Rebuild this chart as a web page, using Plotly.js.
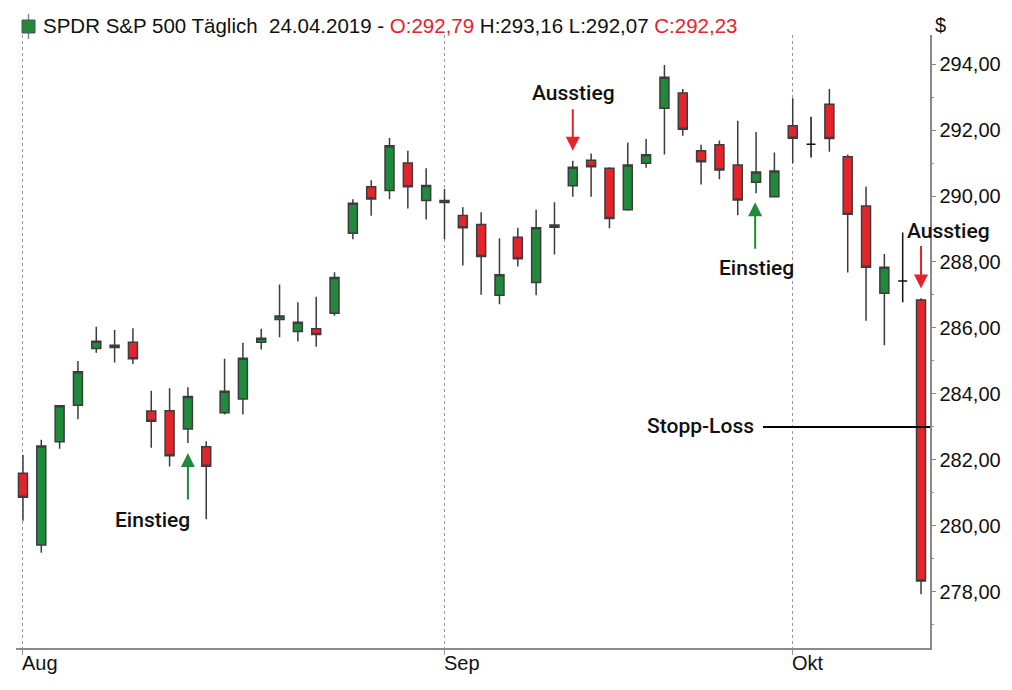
<!DOCTYPE html>
<html>
<head>
<meta charset="utf-8">
<script src="https://cdn.plot.ly/plotly-3.0.1.min.js"></script>
<style>html,body{margin:0;padding:0;background:#fff;}#chart{width:1012px;height:690px;}</style>
</head>
<body>
<div id="chart"></div>
<script>
// ---- data ----
const dayIndex = [0,1,2,3,4,5,6,7,8,9,10,11,12,13,14,15,16,17,18,19,20,21,22,23,24,25,26,27,28,29,30,31,32,33,34,35,36,37,38,39,40,41,42,43,44,45,46,47,48,49];
const openP  = [281.60,279.42,282.55,283.66,285.38,285.41,285.57,283.48,283.49,282.94,282.40,283.43,283.85,285.57,286.26,285.89,285.98,286.45,288.87,290.28,290.17,291.00,289.86,289.86,289.41,289.14,286.99,288.75,287.38,289.05,290.31,291.08,290.84,289.58,290.99,292.66,293.12,291.37,291.55,290.94,290.42,289.98,292.13,291.57,292.78,291.19,289.70,287.05,287.42,286.85];
const highP  = [282.15,282.61,283.66,285.00,286.04,285.94,285.99,284.10,284.17,284.20,282.57,285.07,285.55,285.98,287.32,286.78,286.95,287.69,289.90,290.48,291.76,291.37,290.84,290.21,289.66,289.51,288.72,289.04,289.58,289.81,291.07,291.29,290.87,291.62,291.73,293.97,293.24,291.55,291.68,292.28,291.94,291.32,292.96,292.40,293.24,291.26,290.28,288.24,288.89,286.90];
const lowP   = [280.16,279.19,282.34,283.23,285.25,284.95,284.91,282.37,281.80,282.51,280.20,283.38,283.38,285.35,285.72,285.59,285.43,286.37,288.69,289.40,289.90,289.62,289.29,288.69,287.89,287.01,286.72,287.86,286.99,288.23,289.98,289.98,289.02,289.55,290.86,291.26,291.83,290.35,290.51,289.42,290.08,289.96,290.99,291.17,291.34,287.68,286.22,285.48,286.78,277.93];
const closeP = [280.87,282.42,283.64,284.67,285.60,285.48,285.07,283.17,282.13,283.92,281.81,284.08,285.08,285.69,286.36,286.17,285.80,287.53,289.78,289.91,291.52,290.28,290.32,289.80,289.04,288.17,287.61,288.10,289.04,289.12,290.87,290.89,289.32,290.94,291.25,293.60,292.02,291.04,290.79,289.88,290.73,290.76,291.75,291.57,291.74,289.45,287.84,287.84,287.42,278.33];
const monthTickIdx = [0, 23, 42];
const monthLabels = ['Aug', 'Sep', 'Okt'];
const priceTicks = [278, 280, 282, 284, 286, 288, 290, 292, 294];
const stopLoss = 283.00;
const headerParts = {name: 'SPDR S&P 500 Täglich', date: '24.04.2019', o: '292,79', h: '293,16', l: '292,07', c: '292,23'};

// ---- styling ----
const GREEN = '#1f8a3c', RED = '#e2242b', EDGE = '#3c3c3c';
const FONT = '"Liberation Sans", Arial, sans-serif';
const NARROW = 'Roboto, "Liberation Sans", sans-serif';

const M = {l: 16, r: 82, t: 35, b: 42};
const W = 1012, H = 690;
const pw = W - M.l - M.r, ph = H - M.t - M.b;
const px = p => (p - M.l) / pw;          // pixel -> paper x
const py = p => (H - M.b - p) / ph;      // pixel -> paper y

function pick(arr, keep) { return arr.filter((_, i) => keep(i)); }
const isDoji = i => openP[i] === closeP[i];

const mainTrace = {
  type: 'candlestick',
  x: pick(dayIndex, i => !isDoji(i)),
  open: pick(openP, i => !isDoji(i)),
  high: pick(highP, i => !isDoji(i)),
  low: pick(lowP, i => !isDoji(i)),
  close: pick(closeP, i => !isDoji(i)),
  increasing: {fillcolor: GREEN, line: {color: EDGE, width: 1.5}},
  decreasing: {fillcolor: RED, line: {color: EDGE, width: 1.5}},
  whiskerwidth: 0,
  hoverinfo: 'skip',
  showlegend: false
};
const dojiTrace = {
  type: 'candlestick',
  x: pick(dayIndex, isDoji),
  open: pick(openP, isDoji),
  high: pick(highP, isDoji),
  low: pick(lowP, isDoji),
  close: pick(closeP, isDoji),
  increasing: {fillcolor: '#111', line: {color: '#111', width: 1.5}},
  decreasing: {fillcolor: '#111', line: {color: '#111', width: 1.5}},
  whiskerwidth: 0,
  hoverinfo: 'skip',
  showlegend: false
};

const annFont = {family: NARROW, size: 21, weight: 500, color: '#111'};
function label(text, x, y, xshift) {
  return {text, x, y, xref: 'x', yref: 'y', xshift: xshift || 0, showarrow: false, font: annFont, xanchor: 'center', yanchor: 'middle'};
}
function arrow(x, y, ay, color) {
  return {text: '', x, y, xref: 'x', yref: 'y', showarrow: true, ax: 0, ay,
          arrowhead: 2, arrowsize: 1.4, arrowwidth: 2, arrowcolor: color, standoff: 0};
}

const red = s => '<span style="color:' + RED + '">' + s + '</span>';
const headerText = headerParts.name + '\u00a0\u00a0' + headerParts.date + ' - ' +
  red('O:' + headerParts.o) + ' H:' + headerParts.h + ' L:' + headerParts.l + ' ' + red('C:' + headerParts.c);

const annotations = [
  {text: headerText, xref: 'paper', yref: 'paper', x: px(41), y: py(25), xanchor: 'left', yanchor: 'middle',
   showarrow: false, font: {family: FONT, size: 20.5, color: '#111'}},
  {text: '$', xref: 'paper', yref: 'paper', x: px(933), y: py(25), xanchor: 'left', yanchor: 'middle',
   showarrow: false, font: {family: FONT, size: 20, color: '#111'}},
  label('Einstieg', 7.08, 280.18),
  label('Ausstieg', 30.03, 293.12),
  label('Einstieg', 40.0, 287.82),
  label('Ausstieg', 49.0, 288.94, 27),
  label('Stopp-Loss', 36.95, 283.03),
  arrow(9.0, 282.21, 48, GREEN),
  arrow(30.0, 291.37, -43, RED),
  arrow(39.95, 289.81, 48, GREEN),
  arrow(49.0, 287.20, -44, RED)
];
monthTickIdx.forEach((v, k) => annotations.push({
  text: monthLabels[k], x: v, xref: 'x', yref: 'paper', y: 0, yshift: -15, xanchor: 'left', yanchor: 'middle',
  xshift: -3, showarrow: false, font: {family: FONT, size: 20, color: '#111'}
}));

const shapes = [
  {type: 'line', xref: 'x', yref: 'y', x0: 40.38, x1: 49.49, y0: stopLoss, y1: stopLoss, line: {color: '#000', width: 2}},
  // header icon (small candle)
  {type: 'line', xref: 'paper', yref: 'paper', x0: px(28.5), x1: px(28.5), y0: py(14), y1: py(39), line: {color: '#888', width: 1.5}},
  {type: 'rect', xref: 'paper', yref: 'paper', x0: px(22), x1: px(35), y0: py(20), y1: py(33), fillcolor: GREEN, line: {color: '#555', width: 1}}
];

const layout = {
  width: W, height: H,
  margin: M,
  paper_bgcolor: '#fff', plot_bgcolor: '#fff',
  separators: ',.',
  showlegend: false,
  dragmode: false,
  xaxis: {
    type: 'linear', range: [-0.38, 49.49], fixedrange: true,
    tickmode: 'array', tickvals: monthTickIdx, showticklabels: false,
    ticks: 'outside', ticklen: 5, tickcolor: '#999', tickwidth: 1,
    showgrid: true, gridcolor: '#999', griddash: 'dot', gridwidth: 1,
    showline: true, linecolor: '#8a8a8a', linewidth: 1.5, zeroline: false,
    rangeslider: {visible: false}
  },
  yaxis: {
    side: 'right', range: [276.30, 294.88], fixedrange: true,
    tickmode: 'array', tickvals: priceTicks, tickformat: '.2f',
    ticks: 'outside', ticklen: 4, tickcolor: '#888', tickwidth: 1,
    minor: {dtick: 1, tick0: 0, ticks: 'outside', ticklen: 2, tickcolor: '#999', showgrid: false},
    showgrid: false, zeroline: false,
    showline: true, linecolor: '#8a8a8a', linewidth: 1.5,
    tickfont: {family: FONT, size: 20, color: '#111'}
  },
  annotations, shapes
};

Plotly.newPlot('chart', [mainTrace, dojiTrace], layout, {displayModeBar: false, staticPlot: true});
</script>
</body>
</html>
